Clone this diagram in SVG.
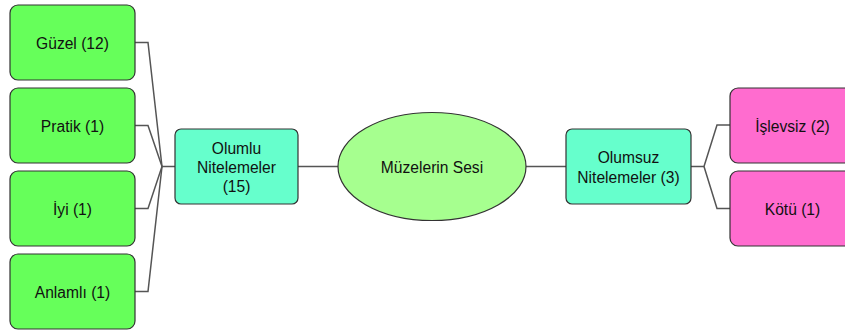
<svg xmlns="http://www.w3.org/2000/svg" width="845" height="331" viewBox="0 0 845 331">
  <style>
    .box { stroke: #333; stroke-width: 1.2; }
    .pos { fill: #66ff5a; }
    .cat { fill: #66ffcc; }
    .neg { fill: #ff6ccf; }
    .core { fill: #a6ff8f; stroke: #333; stroke-width: 1.2; }
    .lbl { font-family: "Liberation Sans", Arial, sans-serif; font-size: 15.6px; fill: #111; text-anchor: middle; dominant-baseline: central; }
    .edge { fill: none; stroke: #555; stroke-width: 1.5; }
  </style>
  <rect width="845" height="331" fill="#ffffff"/>

  <g id="connectors">
    <polyline class="edge" points="135,42.5 148,42.5 162,166.5 175,166.5"/>
    <polyline class="edge" points="135,125.5 148,125.5 162,166.5"/>
    <polyline class="edge" points="135,208.5 148,208.5 162,166.5"/>
    <polyline class="edge" points="135,291.5 148,291.5 162,166.5"/>
    <line class="edge" x1="298" y1="166.5" x2="338" y2="166.5"/>
    <line class="edge" x1="526" y1="166.5" x2="566" y2="166.5"/>
    <polyline class="edge" points="691,166.5 704,166.5 717,125 730,125"/>
    <polyline class="edge" points="704,166.5 717,208.5 730,208.5"/>
  </g>

  <g id="guzel">
    <rect class="box pos" x="10" y="5" width="125" height="75" rx="8"/>
    <text class="lbl" x="72.5" y="43">Güzel (12)</text>
  </g>
  <g id="pratik">
    <rect class="box pos" x="10" y="88" width="125" height="75" rx="8"/>
    <text class="lbl" x="72.5" y="126">Pratik (1)</text>
  </g>
  <g id="iyi">
    <rect class="box pos" x="10" y="171" width="125" height="75" rx="8"/>
    <text class="lbl" x="72.5" y="209">İyi (1)</text>
  </g>
  <g id="anlamli">
    <rect class="box pos" x="10" y="254" width="125" height="75" rx="8"/>
    <text class="lbl" x="72.5" y="292.5">Anlamlı (1)</text>
  </g>

  <g id="olumlu">
    <rect class="box cat" x="175" y="129" width="123" height="75" rx="6"/>
    <text class="lbl" x="236.5" y="148">Olumlu</text>
    <text class="lbl" x="236.5" y="167">Nitelemeler</text>
    <text class="lbl" x="236.5" y="186">(15)</text>
  </g>

  <g id="muzelerin-sesi">
    <ellipse class="core" cx="432" cy="166.5" rx="94" ry="54"/>
    <text class="lbl" x="432" y="167">Müzelerin Sesi</text>
  </g>

  <g id="olumsuz">
    <rect class="box cat" x="566" y="129" width="125" height="75" rx="6"/>
    <text class="lbl" x="628.5" y="157.5">Olumsuz</text>
    <text class="lbl" x="628.5" y="177">Nitelemeler (3)</text>
  </g>

  <g id="islevsiz">
    <rect class="box neg" x="730" y="88" width="125" height="75" rx="8"/>
    <text class="lbl" x="792.5" y="126">İşlevsiz (2)</text>
  </g>
  <g id="kotu">
    <rect class="box neg" x="730" y="171" width="125" height="75" rx="8"/>
    <text class="lbl" x="792.5" y="209">Kötü (1)</text>
  </g>
</svg>
